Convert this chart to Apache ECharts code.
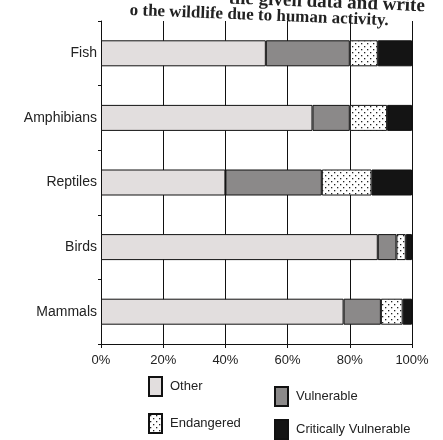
<!DOCTYPE html>
<html>
<head>
<meta charset="utf-8">
<script src="https://cdn.jsdelivr.net/npm/echarts@6/dist/echarts.min.js"></script>
<style>
  html, body { margin: 0; padding: 0; background: #fff; }
  #chart { width: 443px; height: 440px; }
</style>
</head>
<body>
<div id="chart"></div>
<script>
// data (percent of species in each group)
const groups = ['Fish', 'Amphibians', 'Reptiles', 'Birds', 'Mammals']
const other = [53, 68, 40, 89, 78]
const vulnerable = [27, 12, 31, 6, 12]
const endangered = [9, 12, 16, 3, 7]
const critical = [11, 8, 13, 2, 3]
const ticks = [0, 20, 40, 60, 80, 100]

// dotted fill for the endangered part
function dots () {
  const c = document.createElement('canvas')
  c.width = 6
  c.height = 6
  const ctx = c.getContext('2d')
  ctx.fillStyle = '#fff'
  ctx.fillRect(0, 0, 6, 6)
  ctx.fillStyle = '#222'
  ctx.fillRect(1, 1, 1.3, 1.3)
  ctx.fillRect(4, 4, 1.3, 1.3)
  return c
}

const myChart = echarts.init(document.getElementById('chart'))

function bar (name, data, color) {
  return {
    name: name,
    type: 'bar',
    stack: 'total',
    barWidth: 26,
    data: data,
    itemStyle: { color: color, borderColor: '#111', borderWidth: 1 }
  }
}

const legendText = { fontFamily: 'Liberation Sans', fontSize: 13, color: '#222', padding: [0, 0, 0, 3] }

const option = {
  animation: false,
  backgroundColor: '#fff',
  // text of the book page above the chart
  graphic: [
    {
      type: 'text', x: 229, y: -11, rotation: -0.04,
      style: { text: 'the given data and write', font: 'bold 19px "Liberation Serif"', fill: '#222' }
    },
    {
      type: 'text', x: 130, y: 2, rotation: -0.04,
      style: { text: 'o the wildlife due to human activity.', font: 'bold 17px "Liberation Serif"', fill: '#222' }
    }
  ],
  grid: { left: 101, right: 31, top: 21, bottom: 96 },
  legend: [
    {
      data: ['Other', 'Endangered'],
      orient: 'vertical', left: 148, top: 376, padding: 0,
      icon: 'rect', itemWidth: 13, itemHeight: 19, itemGap: 16,
      textStyle: legendText
    },
    {
      data: ['Vulnerable', 'Critically Vulnerable'],
      orient: 'vertical', left: 274, top: 386, padding: 0,
      icon: 'rect', itemWidth: 13, itemHeight: 19, itemGap: 12,
      textStyle: legendText
    }
  ],
  xAxis: {
    type: 'value',
    min: ticks[0],
    max: ticks[ticks.length - 1],
    interval: 20,
    axisLine: { show: true, lineStyle: { color: '#111' } },
    axisTick: { show: true, length: 4, lineStyle: { color: '#111' } },
    splitLine: { show: true, lineStyle: { color: '#111', width: 1 } },
    axisLabel: {
      formatter: '{value}%', margin: 10,
      fontFamily: 'Liberation Sans', fontSize: 13, color: '#222'
    }
  },
  yAxis: {
    type: 'category',
    inverse: true,
    data: groups,
    axisLine: { show: true, lineStyle: { color: '#111' } },
    axisTick: { show: true, length: 3, lineStyle: { color: '#111' } },
    splitLine: { show: false },
    axisLabel: { margin: 4, fontFamily: 'Liberation Sans', fontSize: 14, color: '#222' }
  },
  series: [
    bar('Other', other, '#e2dede'),
    bar('Vulnerable', vulnerable, '#8b8989'),
    bar('Endangered', endangered, { image: dots(), repeat: 'repeat' }),
    bar('Critically Vulnerable', critical, '#141414')
  ]
}

myChart.setOption(option)
</script>
</body>
</html>
